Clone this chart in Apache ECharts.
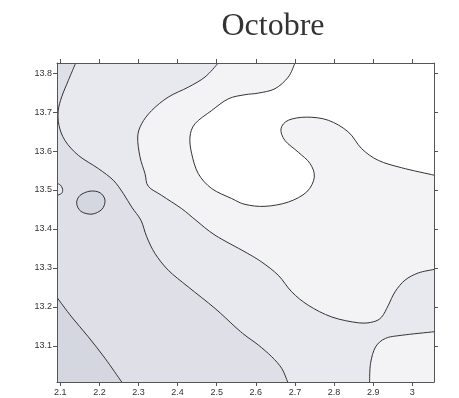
<!DOCTYPE html>
<html>
<head>
<meta charset="utf-8">
<script src="https://cdn.jsdelivr.net/npm/echarts@6/dist/echarts.min.js"></script>
<style>
  html, body { margin: 0; padding: 0; background: #fff; }
  #chart { width: 459px; height: 398px; }
</style>
</head>
<body>
<div id="chart"></div>
<script>
// ---- data -------------------------------------------------------------
const chartTitle = 'Octobre';
const xTicks = [2.1, 2.2, 2.3, 2.4, 2.5, 2.6, 2.7, 2.8, 2.9, 3.0];
const yTicks = [13.1, 13.2, 13.3, 13.4, 13.5, 13.6, 13.7, 13.8];
const xRange = [2.0916, 3.0555];
const yRange = [13.007, 13.826];

// band fills, darkest (lowest level) to lightest
const bandColors = ['#d5d7e0', '#dfe0e7', '#e8e9ee', '#f3f3f6', '#ffffff'];

// contour lines as [x, y] vertices
const contour1 = [[2.0916, 13.224], [2.1291, 13.174], [2.1716, 13.123], [2.2143, 13.068], [2.257, 13.007]];
const contour2 = [[2.1394, 13.826], [2.1205, 13.781], [2.1036, 13.739], [2.0949, 13.704], [2.0967, 13.666],
  [2.112, 13.627], [2.146, 13.589], [2.1972, 13.555], [2.2355, 13.525], [2.2611, 13.491], [2.2826, 13.456],
  [2.3063, 13.422], [2.3209, 13.380], [2.3421, 13.337], [2.3761, 13.294], [2.4273, 13.251], [2.4956, 13.196],
  [2.5467, 13.149], [2.5723, 13.127], [2.6063, 13.102], [2.6405, 13.072], [2.6661, 13.042], [2.6814, 13.007]];
const contour3 = [[2.504, 13.826], [2.47, 13.790], [2.4273, 13.764], [2.3761, 13.7385], [2.3337, 13.704],
  [2.3081, 13.670], [2.2979, 13.636], [2.3038, 13.585], [2.3166, 13.542], [2.325, 13.5095], [2.3593, 13.486],
  [2.4104, 13.452], [2.447, 13.422], [2.4956, 13.384], [2.5723, 13.341], [2.615, 13.315], [2.6574, 13.281],
  [2.6917, 13.2385], [2.7341, 13.204], [2.7939, 13.174], [2.862, 13.159], [2.9003, 13.1615], [2.9218, 13.174],
  [2.9387, 13.204], [2.9558, 13.2385], [2.9813, 13.2685], [3.0154, 13.287], [3.0555, 13.296]];
const contour4 = [[2.8907, 13.007], [2.8933, 13.055], [2.9061, 13.097], [2.9316, 13.119], [2.9731, 13.127],
  [3.0555, 13.136]];
const contour5 = [[2.7001, 13.826], [2.683, 13.790], [2.649, 13.760], [2.6063, 13.7487], [2.5723, 13.7446],
  [2.5296, 13.734], [2.4871, 13.704], [2.4444, 13.670], [2.4316, 13.636], [2.436, 13.593], [2.4528, 13.542],
  [2.4871, 13.5036], [2.5383, 13.478], [2.5723, 13.463], [2.6234, 13.458], [2.683, 13.469], [2.73, 13.495],
  [2.7495, 13.533], [2.7385, 13.568], [2.7085, 13.597], [2.6745, 13.627], [2.6643, 13.657], [2.683, 13.679],
  [2.73, 13.687], [2.7852, 13.679], [2.8364, 13.649], [2.8706, 13.606], [2.9131, 13.576], [2.9729, 13.557],
  [3.0555, 13.538]];
const bumpLeft = [[2.0916, 13.517], [2.1, 13.513], [2.105, 13.505], [2.106, 13.498], [2.103, 13.491], [2.0916, 13.486]];
const lowSpot = [[2.1419, 13.466], [2.1504, 13.486], [2.1759, 13.497], [2.2015, 13.493], [2.2143, 13.474],
  [2.2066, 13.4505], [2.1811, 13.438], [2.1529, 13.445]];

// ---- drawing helpers ---------------------------------------------------
const X0 = xRange[0], X1 = xRange[1], Y0 = yRange[0], Y1 = yRange[1];

// Catmull-Rom spline through pixel points, as SVG path data
function splinePath(P, closed) {
  const n = P.length;
  const get = i => closed ? P[(i + n) % n] : P[Math.max(0, Math.min(n - 1, i))];
  let d = 'M' + P[0][0] + ' ' + P[0][1];
  const segs = closed ? n : n - 1;
  for (let i = 0; i < segs; i++) {
    const p0 = get(i - 1), p1 = get(i), p2 = get(i + 1), p3 = get(i + 2);
    const c1 = [p1[0] + (p2[0] - p0[0]) / 6, p1[1] + (p2[1] - p0[1]) / 6];
    const c2 = [p2[0] - (p3[0] - p1[0]) / 6, p2[1] - (p3[1] - p1[1]) / 6];
    d += ' C' + c1[0] + ' ' + c1[1] + ' ' + c2[0] + ' ' + c2[1] + ' ' + p2[0] + ' ' + p2[1];
  }
  if (closed) d += ' Z';
  return d;
}

// filled band: spline along the contour, then straight along the frame corners
function fillSeries(pts, corners, color, closedSpline) {
  return {
    type: 'custom', z: 2, silent: true, clip: true,
    data: pts,
    renderItem: function (params, api) {
      if (params.dataIndex !== 0) return null;
      const px = pts.map(p => api.coord(p));
      let d;
      if (closedSpline) {
        d = splinePath(px, true);
      } else {
        d = splinePath(px, false);
        corners.forEach(c => { const q = api.coord(c); d += ' L' + q[0] + ' ' + q[1]; });
        d += ' Z';
      }
      return { type: 'path', shape: { pathData: d }, style: { fill: color, stroke: null } };
    }
  };
}

function strokeSeries(pts, closed) {
  return {
    type: 'custom', z: 3, silent: true, clip: true,
    data: pts,
    renderItem: function (params, api) {
      if (params.dataIndex !== 0) return null;
      const px = pts.map(p => api.coord(p));
      return {
        type: 'path', shape: { pathData: splinePath(px, closed) },
        style: { fill: null, stroke: '#333', lineWidth: 1 }
      };
    }
  };
}

const frame = [[X0, Y0], [X1, Y0], [X1, Y1], [X0, Y1]];

const series = [
  // whole frame in the lowest band
  {
    type: 'custom', z: 1, silent: true, data: frame,
    renderItem: function (params, api) {
      if (params.dataIndex !== 0) return null;
      const px = frame.map(p => api.coord(p));
      return { type: 'polygon', shape: { points: px }, style: { fill: bandColors[0] } };
    }
  },
  fillSeries(contour1, [[X1, Y0], [X1, Y1], [X0, Y1]], bandColors[1]),
  fillSeries(contour2, [[X1, Y0], [X1, Y1]], bandColors[2]),
  fillSeries(contour3, [[X1, Y1]], bandColors[3]),
  fillSeries(contour4, [[X1, Y0]], bandColors[3]),
  fillSeries(contour5, [[X1, Y1]], bandColors[4]),
  fillSeries(bumpLeft, [], bandColors[2]),
  fillSeries(lowSpot, null, bandColors[0], true),
  strokeSeries(contour1, false),
  strokeSeries(contour2, false),
  strokeSeries(contour3, false),
  strokeSeries(contour4, false),
  strokeSeries(contour5, false),
  strokeSeries(bumpLeft, false),
  strokeSeries(lowSpot, true)
];

const frameLine = { show: true, onZero: false, lineStyle: { color: '#555', width: 1 } };
const labelFont = { fontSize: 9, color: '#333', fontFamily: 'Liberation Sans, Arial, sans-serif' };

const option = {
  animation: false,
  backgroundColor: '#fff',
  graphic: [{
    type: 'text', x: 273, y: 27,
    style: {
      text: chartTitle, fontFamily: 'Liberation Serif, Times New Roman, serif', fontSize: 32,
      fill: '#333', textAlign: 'center', textVerticalAlign: 'middle'
    }
  }],
  grid: { left: 57, right: 25, top: 63, bottom: 16 },
  xAxis: [
    {
      type: 'value', position: 'bottom', min: X0, max: X1, z: 10,
      axisLine: frameLine,
      axisTick: { show: true, length: 4, customValues: xTicks, lineStyle: { color: '#555' } },
      axisLabel: Object.assign({ customValues: xTicks, margin: 6 }, labelFont),
      splitLine: { show: false }
    },
    {
      type: 'value', position: 'top', min: X0, max: X1, z: 10,
      axisLine: frameLine,
      axisTick: { show: true, length: 4, customValues: xTicks, lineStyle: { color: '#555' } },
      axisLabel: { show: false },
      splitLine: { show: false }
    }
  ],
  yAxis: [
    {
      type: 'value', position: 'left', min: Y0, max: Y1, z: 10,
      axisLine: frameLine,
      axisTick: { show: true, length: 4, customValues: yTicks, lineStyle: { color: '#555' } },
      axisLabel: Object.assign({ customValues: yTicks, margin: 5 }, labelFont),
      splitLine: { show: false }
    },
    {
      type: 'value', position: 'right', min: Y0, max: Y1, z: 10,
      axisLine: frameLine,
      axisTick: { show: true, length: 4, customValues: yTicks, lineStyle: { color: '#555' } },
      axisLabel: { show: false },
      splitLine: { show: false }
    }
  ],
  series: series
};

const chart = echarts.init(document.getElementById('chart'), null, { renderer: 'canvas' });
chart.setOption(option);
</script>
</body>
</html>
